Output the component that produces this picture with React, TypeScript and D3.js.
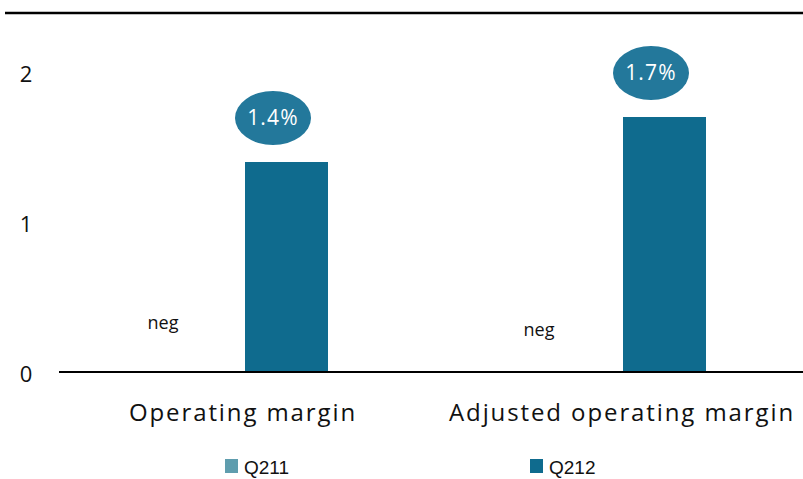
import React, { useEffect, useRef } from 'react';
import * as d3 from 'd3';

const categories = ['Operating margin', 'Adjusted operating margin'];
const seriesNames = ['Q211', 'Q212'];
const q211 = [0, 0];
const q212 = [1.4, 1.7];
const q211Labels = ['neg', 'neg'];
const q212Labels = ['1.4%', '1.7%'];
const yTicks = [0, 1, 2];
const colors = ['#5f9dae', '#0f6b8e'];

export default function App() {
  const ref = useRef<SVGSVGElement>(null);

  useEffect(() => {
    const svg = d3.select(ref.current);
    svg.selectAll('*').remove();
    const w = 803;
    const left = 59, y0 = 372;

    const x = d3.scaleBand().domain(categories).range([56, 812]);
    const sub = d3.scaleBand().domain(seriesNames).range([x.bandwidth() / 2 - 84, x.bandwidth() / 2 + 84]).padding(0);
    const y = d3.scaleLinear().domain([0, 2]).range([y0, 72]);

    const font = "'Open Sans', 'DejaVu Sans', sans-serif";

    // top rule
    svg.append('line')
      .attr('x1', 5).attr('x2', w).attr('y1', 13).attr('y2', 13)
      .attr('stroke', '#000').attr('stroke-width', 2.5);

    // y labels
    svg.append('g').selectAll('text').data(yTicks).join('text')
      .attr('x', 26).attr('y', d => y(d) + 10)
      .attr('text-anchor', 'middle')
      .style('font-family', font).style('font-size', '22px').attr('fill', '#111')
      .text(d => d);

    const data = [q211, q212];
    const g = svg.append('g');
    categories.forEach((c, i) => {
      const bx = x(c)!;
      data.forEach((vals, s) => {
        const v = vals[i];
        if (v > 0) {
          g.append('rect')
            .attr('x', bx + sub(seriesNames[s])!)
            .attr('y', y(v))
            .attr('width', sub.bandwidth() - 1)
            .attr('height', y0 - y(v))
            .attr('fill', colors[s]);
        }
      });
      // neg labels
      g.append('text')
        .attr('x', bx + sub('Q211')! + sub.bandwidth() / 2 - (i === 0 ? 40 : 42))
        .attr('y', i === 0 ? 329 : 336)
        .attr('text-anchor', 'middle')
        .style('font-family', font).style('font-size', '18px').attr('fill', '#111')
        .text(q211Labels[i]);
      // bubble labels
      const cx = bx + sub('Q212')! + sub.bandwidth() / 2 - 14;
      const cy = y(q212[i]) - 44;
      g.append('ellipse')
        .attr('cx', cx).attr('cy', cy).attr('rx', 38).attr('ry', 27)
        .attr('fill', '#23789b');
      g.append('text')
        .attr('x', cx).attr('y', cy + 7)
        .attr('text-anchor', 'middle')
        .style('font-family', font).style('font-size', '21px').attr('fill', '#fff')
        .style('letter-spacing', '1.2px')
        .text(q212Labels[i]);
      // category label
      g.append('text')
        .attr('x', bx + x.bandwidth() / 2 + (i === 0 ? -2 : -1))
        .attr('y', 421)
        .attr('text-anchor', 'middle')
        .style('font-family', font).style('font-size', '24px').attr('fill', '#111')
        .style('letter-spacing', '1.9px')
        .text(c);
    });

    // baseline
    svg.append('line')
      .attr('x1', left).attr('x2', w).attr('y1', y0).attr('y2', y0)
      .attr('stroke', '#000').attr('stroke-width', 2);

    // legend
    const legX = [225, 530];
    seriesNames.forEach((n, s) => {
      svg.append('rect').attr('x', legX[s]).attr('y', 459).attr('width', 13).attr('height', 14).attr('fill', colors[s]);
      svg.append('text').attr('x', legX[s] + 19).attr('y', 474)
        .style('font-family', "'Liberation Sans', Arial, sans-serif").style('font-size', '19px').attr('fill', '#111')
        .text(n);
    });
  }, []);

  return <svg ref={ref} width={803} height={479} style={{ position: 'absolute', left: 0, top: 0 }} />;
}
